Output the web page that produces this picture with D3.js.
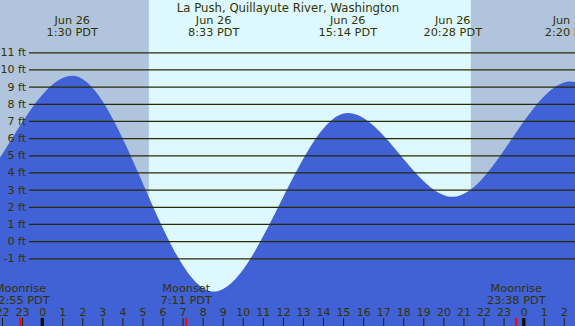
<!DOCTYPE html>
<html>
<head>
<meta charset="utf-8">
<script src="https://cdn.jsdelivr.net/npm/d3@7"></script>
<style>
  body { margin: 0; background: #fff; }
  svg { display: block; font-family: "DejaVu Sans", sans-serif; }
</style>
</head>
<body>
<div class="tide-chart"></div>
<script>
// hours counted from midnight Jun 26 (PDT); first and last entries only shape the curve ends
var tideHours = [-11.3, -4.9, 1.5, 8.55, 15.233, 20.467, 26.333, 33.3, 39.6];
var tideFeet = [8.2, 1.6, 9.64, -2.94, 7.47, 2.58, 9.3, -2.5, 7.6];
var tideDates = ["Jun 25", "Jun 25", "Jun 26", "Jun 26", "Jun 26", "Jun 26", "Jun 27", "Jun 27", "Jun 27"];
var tideLabels = ["12:42 PDT", "19:06 PDT", "1:30 PDT", "8:33 PDT", "15:14 PDT", "20:28 PDT", "2:20 PDT", "9:18 PDT", "15:36 PDT"];

var sunriseHour = 5.32;
var sunsetHour = 21.37;

var moonHours = [-1.083, 7.183, 23.633];
var moonNames = ["Moonrise", "Moonset", "Moonrise"];
var moonLabels = ["22:55 PDT", "7:11 PDT", "23:38 PDT"];

var feetTicks = [-1, 0, 1, 2, 3, 4, 5, 6, 7, 8, 9, 10, 11];
var hourTicks = d3.range(-2, 27);
var midnightHours = [0, 24];

var title = "La Push, Quillayute River, Washington";

(function() {
    var width = 575, height = 326;
    var textColor = "#333300";
    var fontSize = "11.3px";

    var svg = d3.select(".tide-chart").append("svg")
        .attr("width", width)
        .attr("height", height);

    var x = d3.scaleLinear().domain([-2.1, 26.56]).range([0, width]);
    var y = d3.scaleLinear().domain([-1, 11]).range([258.3, 52.3]);

    // night / day background
    svg.append("rect")
        .attr("x", 0).attr("y", 0)
        .attr("width", width).attr("height", height)
        .attr("fill", "#b0c4de");
    svg.append("rect")
        .attr("x", x(sunriseHour)).attr("y", 0)
        .attr("width", x(sunsetHour) - x(sunriseHour)).attr("height", height)
        .attr("fill", "#ddf8ff");

    // water
    var tides = tideHours.map(function(h, i) {
        return { h: h, v: tideFeet[i], date: tideDates[i], time: tideLabels[i] };
    });
    var area = d3.area()
        .curve(d3.curveMonotoneX)
        .x(function(d) { return x(d.h); })
        .y0(height)
        .y1(function(d) { return y(d.v); });
    svg.append("path")
        .datum(tides)
        .attr("d", area)
        .attr("fill", "#4161d6");

    // feet grid + labels
    var yAxis = d3.axisLeft(y)
        .tickValues(feetTicks)
        .tickSize(width - 29)
        .tickPadding(3)
        .tickFormat(function(d) { return d + " ft"; });
    var gy = svg.append("g")
        .attr("transform", "translate(" + width + ",0)")
        .call(yAxis);
    gy.select(".domain").remove();
    gy.selectAll("line").attr("stroke", "#2a2a00").attr("stroke-width", 1.2);
    gy.selectAll("text")
        .attr("fill", textColor)
        .style("font-size", "11px")
        .style("font-family", "DejaVu Sans");

    // title
    svg.append("text")
        .attr("x", width / 2 + 0.5)
        .attr("y", 11.5)
        .attr("text-anchor", "middle")
        .attr("fill", textColor)
        .style("font-size", "11.7px")
        .text(title);

    // high / low labels (only those that fall inside the window)
    var shown = tides.filter(function(d) { return d.h > x.domain()[0] && d.h < x.domain()[1]; });
    var ext = svg.selectAll(".ext")
        .data(shown)
        .enter().append("g")
        .attr("class", "ext")
        .attr("transform", function(d) { return "translate(" + x(d.h) + ",0)"; });
    ext.append("text")
        .attr("y", 23.6)
        .attr("text-anchor", "middle")
        .attr("fill", textColor)
        .style("font-size", fontSize)
        .text(function(d) { return d.date; });
    ext.append("text")
        .attr("y", 36)
        .attr("text-anchor", "middle")
        .attr("fill", textColor)
        .style("font-size", fontSize)
        .text(function(d) { return d.time; });

    // hour axis at the bottom
    var xAxis = d3.axisTop(x)
        .tickValues(hourTicks)
        .tickSize(8)
        .tickPadding(2)
        .tickFormat(function(d) { return ((d % 24) + 24) % 24; });
    var gx = svg.append("g")
        .attr("transform", "translate(0," + height + ")")
        .call(xAxis);
    gx.select(".domain").remove();
    gx.selectAll("line").attr("stroke", "#222200");
    gx.selectAll("text")
        .attr("fill", textColor)
        .style("font-size", "11px")
        .style("font-family", "DejaVu Sans");

    // midnight ticks
    svg.selectAll(".midnight")
        .data(midnightHours)
        .enter().append("rect")
        .attr("class", "midnight")
        .attr("x", function(d) { return x(d) - 1.5; })
        .attr("y", height - 8)
        .attr("width", 3.3)
        .attr("height", 8)
        .attr("fill", "#111100");

    // moon events
    var moon = svg.selectAll(".moon")
        .data(moonHours.map(function(h, i) { return { h: h, name: moonNames[i], time: moonLabels[i] }; }))
        .enter().append("g")
        .attr("class", "moon")
        .attr("transform", function(d) { return "translate(" + x(d.h) + ",0)"; });
    moon.append("rect")
        .attr("x", -1)
        .attr("y", height - 8)
        .attr("width", 2)
        .attr("height", 8)
        .attr("fill", "#ff0000");
    moon.append("text")
        .attr("y", 291.5)
        .attr("text-anchor", "middle")
        .attr("fill", textColor)
        .style("font-size", fontSize)
        .text(function(d) { return d.name; });
    moon.append("text")
        .attr("y", 303.5)
        .attr("text-anchor", "middle")
        .attr("fill", textColor)
        .style("font-size", fontSize)
        .text(function(d) { return d.time; });
})();
</script>
</body>
</html>
